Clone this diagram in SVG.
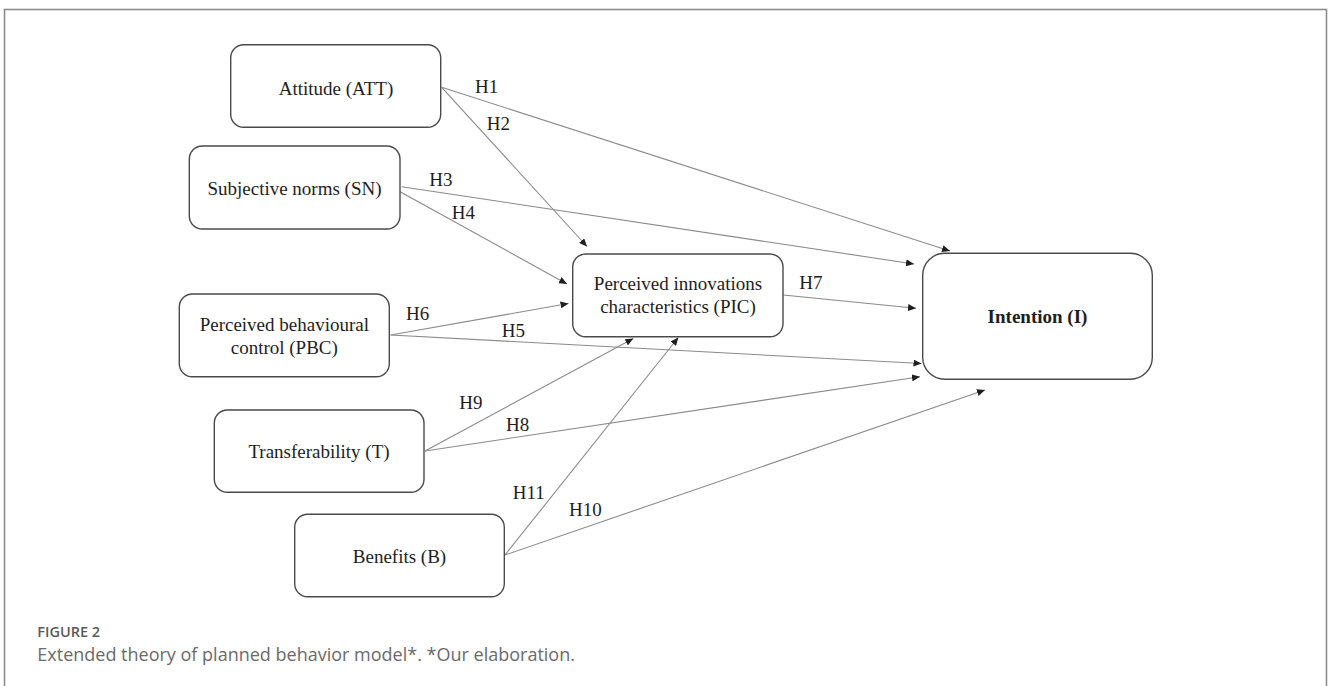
<svg xmlns="http://www.w3.org/2000/svg" width="1328" height="686" viewBox="0 0 1328 686">
<style>
.box{fill:#fff;stroke:#4a4a4a;stroke-width:1.4}
.t{font-family:"Liberation Serif","Times New Roman",serif;font-size:19px;fill:#1e1e1e;text-anchor:middle}
.b{font-weight:bold}
.lab{font-family:"Liberation Serif","Times New Roman",serif;font-size:19px;fill:#1e1e1e}
.c{fill:none;stroke:#8a8a8a;stroke-width:1.1;marker-end:url(#ah)}
.cap1{font-family:"Open Sans","Liberation Sans",sans-serif;font-size:14.5px;font-weight:600;fill:#5a5a5a}
.cap2{font-family:"Open Sans","Liberation Sans",sans-serif;font-size:18px;fill:#6a6a6a}
</style>
<defs>
<marker id="ah" markerUnits="userSpaceOnUse" markerWidth="9" markerHeight="7" refX="8" refY="3.5" orient="auto">
<path d="M0,0 L8,3.5 L0,7 Z" fill="#1e1e1e"/>
</marker>
</defs>
<rect x="4.5" y="9.5" width="1322" height="700" fill="none" stroke="#8c8c8c" stroke-width="1.6"/>
<g id="connectors">
<line class="c" x1="441.7" y1="87.3" x2="950" y2="251"/>
<line class="c" x1="441.7" y1="87.3" x2="587" y2="246.5"/>
<line class="c" x1="401.7" y1="186.7" x2="914" y2="264"/>
<line class="c" x1="398.3" y1="190.7" x2="567" y2="284"/>
<line class="c" x1="390.7" y1="335" x2="568.5" y2="303.5"/>
<line class="c" x1="390.7" y1="335" x2="921.5" y2="363.5"/>
<line class="c" x1="783.3" y1="295" x2="916" y2="308.3"/>
<line class="c" x1="425" y1="451" x2="633.3" y2="338.5"/>
<line class="c" x1="425" y1="451" x2="920" y2="376.7"/>
<line class="c" x1="505" y1="555" x2="678.3" y2="337.5"/>
<line class="c" x1="505" y1="555" x2="985" y2="390"/>
<text class="lab" x="475" y="92.7">H1</text>
<text class="lab" x="486.7" y="130">H2</text>
<text class="lab" x="429.3" y="186">H3</text>
<text class="lab" x="451.7" y="219.3">H4</text>
<text class="lab" x="501.7" y="337.3">H5</text>
<text class="lab" x="406" y="320">H6</text>
<text class="lab" x="799.3" y="289.3">H7</text>
<text class="lab" x="506" y="430.7">H8</text>
<text class="lab" x="459.3" y="409">H9</text>
<text class="lab" x="569" y="516">H10</text>
<text class="lab" x="512.7" y="499">H11</text>
</g>
<g id="att">
<rect class="box" x="230.7" y="44.7" width="210" height="82.6" rx="13"/>
<text class="t" x="336" y="95">Attitude (ATT)</text>
</g>
<g id="sn">
<rect class="box" x="189.3" y="146" width="210.7" height="83" rx="13"/>
<text class="t" x="294.5" y="195">Subjective norms (SN)</text>
</g>
<g id="pbc">
<rect class="box" x="179.3" y="294" width="210" height="82.7" rx="13"/>
<text class="t" x="284.3" y="331">Perceived behavioural</text>
<text class="t" x="284.3" y="354">control (PBC)</text>
</g>
<g id="t">
<rect class="box" x="214.3" y="410" width="209.7" height="82.3" rx="13"/>
<text class="t" x="319" y="458">Transferability (T)</text>
</g>
<g id="b">
<rect class="box" x="294.7" y="514.3" width="209.6" height="82.4" rx="13"/>
<text class="t" x="399.5" y="563">Benefits (B)</text>
</g>
<g id="pic">
<rect class="box" x="572.7" y="254" width="210.3" height="82.7" rx="13"/>
<text class="t" x="678" y="290">Perceived innovations</text>
<text class="t" x="678" y="313">characteristics (PIC)</text>
</g>
<g id="intention">
<rect class="box" x="922.7" y="253.3" width="229.6" height="126" rx="22"/>
<text class="t b" x="1037.5" y="323">Intention (I)</text>
</g>
<text class="cap1" x="37.3" y="636.7">FIGURE 2</text>
<text class="cap2" x="37.3" y="660.5">Extended theory of planned behavior model*. *Our elaboration.</text>
</svg>
